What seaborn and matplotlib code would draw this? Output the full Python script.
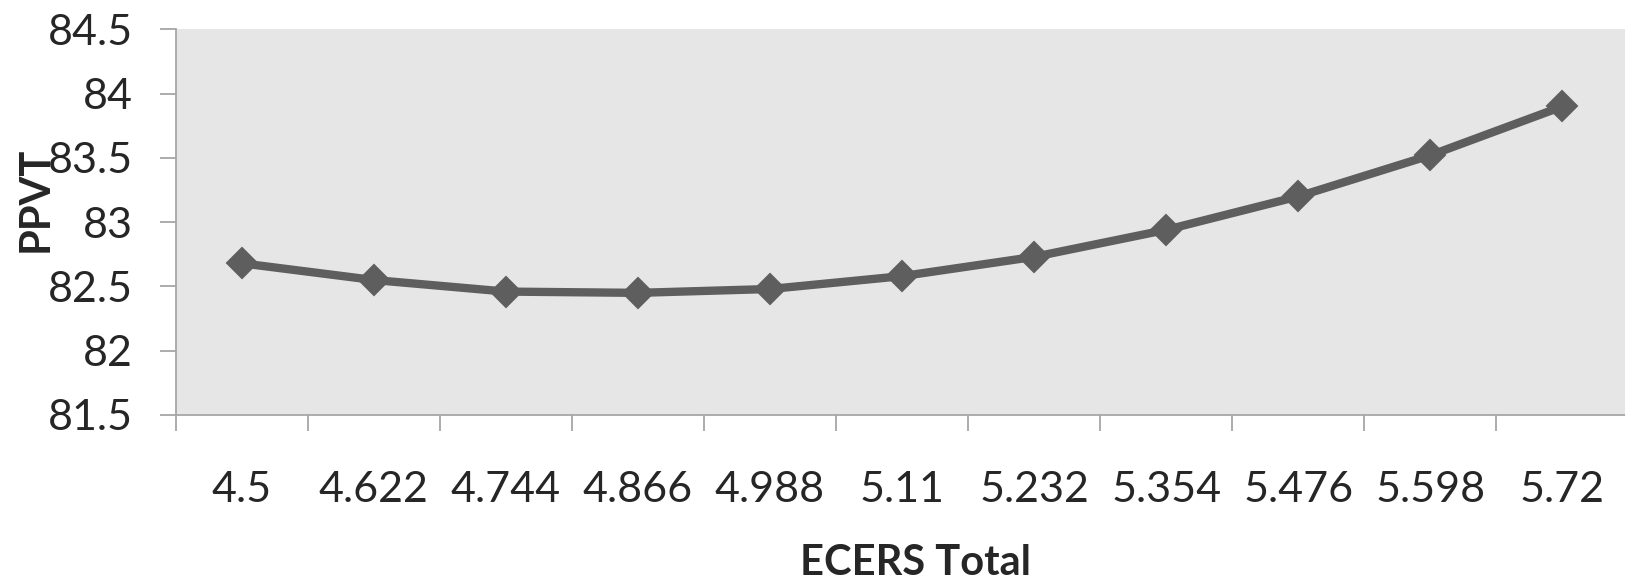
import matplotlib
matplotlib.use("Agg")
import matplotlib.pyplot as plt
import seaborn as sns
import pandas as pd

# ECERS total score levels and the predicted PPVT score at each level
ecers_levels = ["4.5", "4.622", "4.744", "4.866", "4.988", "5.11",
                "5.232", "5.354", "5.476", "5.598", "5.72"]
ppvt_scores = [82.68, 82.55, 82.46, 82.45, 82.48, 82.58,
               82.73, 82.94, 83.20, 83.52, 83.90]
y_ticks = [81.5, 82.0, 82.5, 83.0, 83.5, 84.0, 84.5]
y_tick_labels = ["81.5", "82", "82.5", "83", "83.5", "84", "84.5"]

sns.set_style("white")
plt.rcParams["font.family"] = ["Lato", "DejaVu Sans"]

df = pd.DataFrame({"ECERS Total": ecers_levels, "PPVT": ppvt_scores})

fig = plt.figure(figsize=(16.25, 5.85), dpi=100)
ax = fig.add_axes([0.1081, 0.2906, 0.894, 0.6593])
ax.set_facecolor("#e6e6e6")

line_color = "#5e5e5e"
sns.pointplot(data=df, x="ECERS Total", y="PPVT", order=ecers_levels,
              color=line_color, markers="D", linestyles="-",
              markersize=12, linewidth=6, ax=ax)

ax.set_ylim(y_ticks[0], y_ticks[-1])
ax.set_xlim(-0.5, len(ecers_levels) - 0.5)

axis_gray = "#a6a6a6"
for side in ("top", "right"):
    ax.spines[side].set_visible(False)
for side in ("left", "bottom"):
    ax.spines[side].set_visible(True)
    ax.spines[side].set_color(axis_gray)
    ax.spines[side].set_linewidth(1.3)

# y axis: ticks outside, labels well to the left
ax.set_yticks(y_ticks)
ax.set_yticklabels(y_tick_labels)
ax.tick_params(axis="y", which="major", direction="out", length=11.3,
               width=1.3, color=axis_gray, pad=19.5, labelsize=31,
               left=True)

# x axis: labels centred on categories, tick marks on category boundaries
ax.set_xticks(range(len(ecers_levels)))
ax.set_xticklabels(ecers_levels)
ax.set_xticks([i - 0.5 for i in range(len(ecers_levels) + 1)], minor=True)
ax.tick_params(axis="x", which="major", length=0, pad=40, labelsize=31)
ax.tick_params(axis="x", which="minor", direction="out", length=11.5,
               width=1.3, color=axis_gray, bottom=True)

ax.set_xlabel("ECERS Total", fontsize=30, fontweight="bold", va="center")
ax.xaxis.set_label_coords(0.5096, -0.3837)
ax.set_ylabel("PPVT", fontsize=30, fontweight="bold", va="center")
ax.yaxis.set_label_coords(-0.0962, 0.56)

fig.savefig("out.png", dpi=100)
